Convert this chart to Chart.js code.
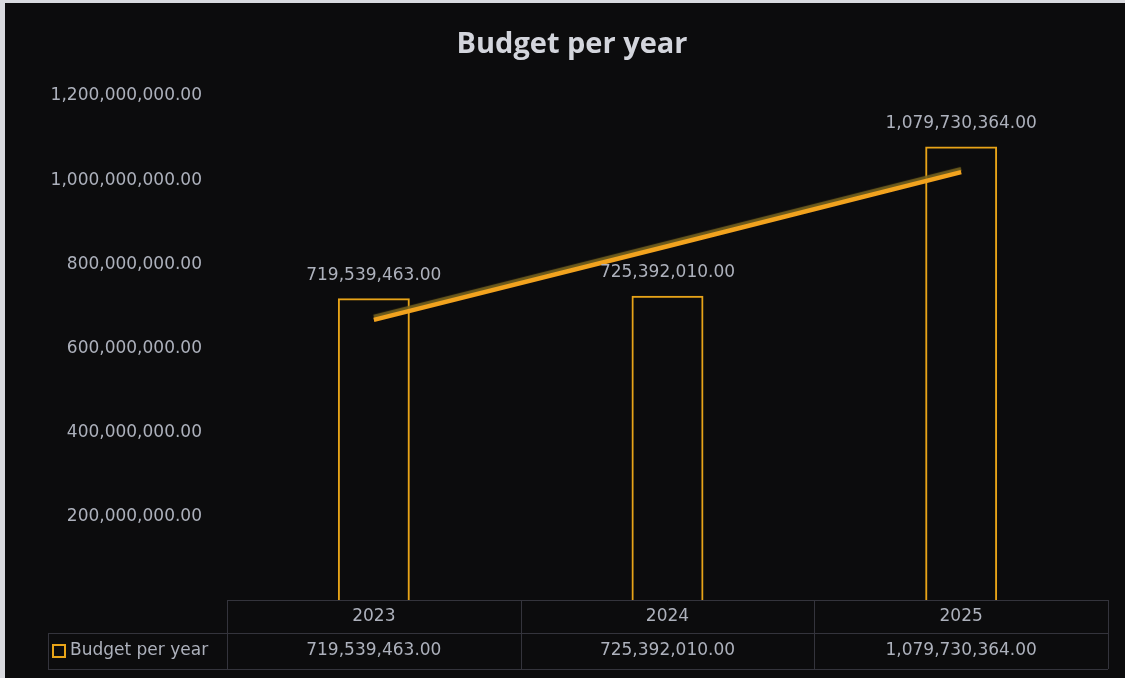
<!DOCTYPE html>
<html>
<head>
<meta charset="utf-8">
<title>Budget per year</title>
<script src="https://cdn.jsdelivr.net/npm/chart.js@4.4.1/dist/chart.umd.min.js"></script>
<style>
  html, body { margin: 0; padding: 0; background: #d9dadf; }
  #wrap { position: absolute; left: 5px; top: 3px; width: 1120px; height: 675px; background: #0c0c0d; }
</style>
</head>
<body>
<div id="wrap"><canvas id="budget"></canvas></div>
<script>
'use strict';

const years = ['2023', '2024', '2025'];
const budget = [719539463.00, 725392010.00, 1079730364.00];
// linear trend through the yearly totals
const trend = [668000000, 843000000, 1019000000];
const yTicks = [0, 200000000, 400000000, 600000000, 800000000, 1000000000, 1200000000];
const chartTitle = 'Budget per year';

const ORANGE = '#e8a418';
const TEXT = '#adb1bc';
const GRID = '#34343c';
const FONT = '"DejaVu Sans", "Noto Sans", sans-serif';
const TITLE_FONT = '"Open Sans", "Noto Sans", sans-serif';

const fmt = (v) => v.toLocaleString('en-US', { minimumFractionDigits: 2, maximumFractionDigits: 2 });

// title, value labels above bars, data table under the plot
const tablePlugin = {
  id: 'budgetTable',
  beforeDraw(chart) {
    const { ctx } = chart;
    ctx.save();
    ctx.font = `bold 29px ${TITLE_FONT}`;
    ctx.fillStyle = '#d3d5dc';
    ctx.textAlign = 'center';
    ctx.textBaseline = 'middle';
    ctx.fillText(chartTitle, 567, 42);
    ctx.restore();
  },
  afterDatasetsDraw(chart) {
    const { ctx } = chart;
    const meta = chart.getDatasetMeta(0);
    ctx.save();
    ctx.font = `17px ${FONT}`;
    ctx.fillStyle = TEXT;
    ctx.textAlign = 'center';
    ctx.textBaseline = 'middle';
    meta.data.forEach((bar, i) => {
      ctx.fillText(fmt(budget[i]), bar.x, bar.y - 23);
    });
    ctx.restore();
  },
  afterDraw(chart) {
    const { ctx, chartArea } = chart;
    const left = chartArea.left;
    const right = chartArea.right;
    const colW = (right - left) / years.length;
    const top = chartArea.bottom - 1;
    const mid = top + 33;
    const bottom = mid + 36;
    const legendLeft = 43;

    ctx.save();
    ctx.strokeStyle = GRID;
    ctx.lineWidth = 1;
    ctx.beginPath();
    ctx.moveTo(left, top + 0.5); ctx.lineTo(right, top + 0.5);
    ctx.moveTo(legendLeft, mid + 0.5); ctx.lineTo(right, mid + 0.5);
    ctx.moveTo(legendLeft, bottom + 0.5); ctx.lineTo(right, bottom + 0.5);
    ctx.moveTo(legendLeft + 0.5, mid); ctx.lineTo(legendLeft + 0.5, bottom);
    for (let i = 0; i <= years.length; i++) {
      const x = Math.round(left + i * colW) + 0.5;
      ctx.moveTo(x, top); ctx.lineTo(x, bottom);
    }
    ctx.stroke();

    ctx.font = `17px ${FONT}`;
    ctx.fillStyle = TEXT;
    ctx.textAlign = 'center';
    ctx.textBaseline = 'middle';
    years.forEach((y, i) => {
      const cx = left + (i + 0.5) * colW;
      ctx.fillText(y, cx, (top + mid) / 2);
      ctx.fillText(fmt(budget[i]), cx, (mid + bottom) / 2);
    });

    // legend key
    ctx.strokeStyle = ORANGE;
    ctx.lineWidth = 2;
    ctx.strokeRect(legendLeft + 5, (mid + bottom) / 2 - 6, 12, 12);
    ctx.textAlign = 'left';
    ctx.fillText(chartTitle, legendLeft + 22, (mid + bottom) / 2);
    ctx.restore();
  },
};

// darker edge along the top of the trend line
const trendShadow = {
  id: 'trendShadow',
  beforeDatasetDraw(chart, args) {
    if (args.index !== 1) return;
    const ctx = chart.ctx;
    ctx.save();
    ctx.shadowColor = 'rgba(120, 100, 30, 0.9)';
    ctx.shadowOffsetY = -3;
    ctx.shadowBlur = 1;
  },
  afterDatasetDraw(chart, args) {
    if (args.index !== 1) return;
    chart.ctx.restore();
  },
};

new Chart(document.getElementById('budget'), {
  type: 'bar',
  data: {
    labels: years,
    datasets: [
      {
        label: 'Budget per year',
        data: budget,
        backgroundColor: 'rgba(0,0,0,0)',
        borderColor: ORANGE,
        borderWidth: 2,
        categoryPercentage: 1,
        barPercentage: 0.245,
        order: 2,
      },
      {
        type: 'line',
        label: 'Trend',
        data: trend,
        borderColor: '#f2a31e',
        borderWidth: 4.5,
        pointRadius: 0,
        tension: 0,
        order: 1,
      },
    ],
  },
  options: {
    responsive: true,
    maintainAspectRatio: false,
    animation: false,
    layout: { padding: { left: 0, right: 17, top: 93, bottom: 77 } },
    plugins: {
      legend: { display: false },
      tooltip: { enabled: false },
      title: { display: false },
    },
    scales: {
      x: { display: false },
      y: {
        min: yTicks[0],
        max: yTicks[yTicks.length - 1],
        afterBuildTicks: (scale) => { scale.ticks = yTicks.map(v => ({ value: v })); },
        afterFit: (scale) => { scale.width = 222; },
        border: { display: false },
        grid: { display: false, drawTicks: false },
        ticks: {
          color: TEXT,
          padding: 25,
          font: { family: FONT, size: 17 },
          callback: (v) => (v === 0 ? '' : fmt(v)),
        },
      },
    },
  },
  plugins: [tablePlugin, trendShadow],
});
</script>
</body>
</html>
